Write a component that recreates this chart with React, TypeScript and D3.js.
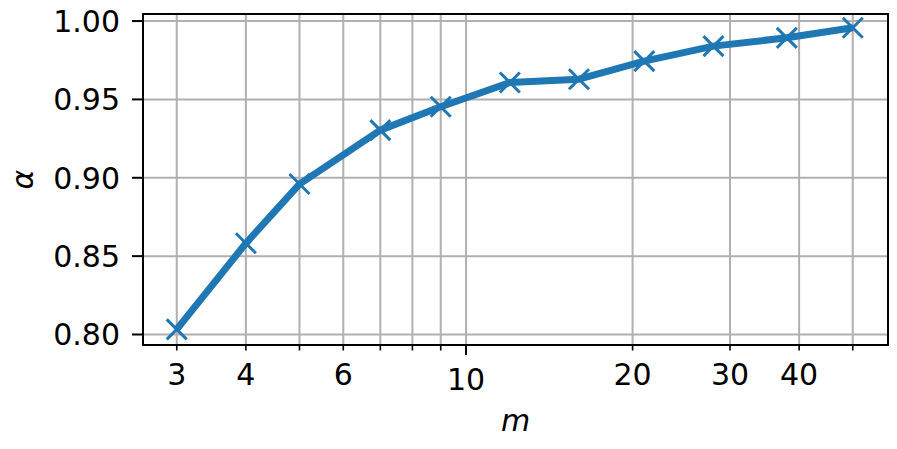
import React from "react";
import * as d3 from "d3";

const mValues = [3, 4, 5, 7, 9, 12, 16, 21, 28, 38, 50];
const alphaValues = [0.8033, 0.8582, 0.896, 0.9304, 0.9453, 0.9608, 0.9629, 0.9744, 0.984, 0.9893, 0.9957];
const yTicks = [0.8, 0.85, 0.9, 0.95, 1.0];
const xGridTicks = [3, 4, 5, 6, 7, 8, 9, 10, 20, 30, 40, 50];
const xMajorTicks = [10];
const xMinorLabels = [3, 4, 6, 20, 30, 40];

const W = 897;
const H = 449;
const left = 143;
const right = 888;
const top = 14;
const bottom = 345;
const FONT = "DejaVu Sans, sans-serif";
const BLUE = "#1f77b4";

export default function App() {
  const x = d3.scaleLog().domain([2.607, 57.9]).range([left, right]);
  const y = d3.scaleLinear().domain([0.7933, 1.0045]).range([bottom, top]);
  const line = d3
    .line<number>()
    .x((_, i) => x(mValues[i]))
    .y((d) => y(d));
  const ms = 10;
  return (
    <svg
      width={W}
      height={H}
      style={{ position: "absolute", left: 0, top: 0, background: "#fff" }}
      fontFamily={FONT}
    >
      <rect x={0} y={0} width={W} height={H} fill="#fff" />
      {/* grid */}
      {xGridTicks.map((t) => (
        <line key={"gx" + t} x1={x(t)} x2={x(t)} y1={top} y2={bottom} stroke="#b0b0b0" strokeWidth={2} />
      ))}
      {yTicks.map((t) => (
        <line key={"gy" + t} x1={left} x2={right} y1={y(t)} y2={y(t)} stroke="#b0b0b0" strokeWidth={2} />
      ))}
      {/* data line */}
      <path d={line(alphaValues) || ""} fill="none" stroke={BLUE} strokeWidth={7} strokeLinejoin="round" strokeLinecap="butt" />
      {alphaValues.map((v, i) => {
        const cx = x(mValues[i]);
        const cy = y(v);
        return (
          <g key={"m" + i} stroke={BLUE} strokeWidth={3}>
            <line x1={cx - ms} y1={cy - ms} x2={cx + ms} y2={cy + ms} />
            <line x1={cx - ms} y1={cy + ms} x2={cx + ms} y2={cy - ms} />
          </g>
        );
      })}
      {/* frame */}
      <rect x={left} y={top} width={right - left} height={bottom - top} fill="none" stroke="#000" strokeWidth={2} />
      {/* y ticks */}
      {yTicks.map((t) => (
        <g key={"yt" + t}>
          <line x1={left - 11} x2={left} y1={y(t)} y2={y(t)} stroke="#000" strokeWidth={2} />
          <text x={120} y={y(t) + 11} textAnchor="end" fontSize={30} fill="#000">
            {t.toFixed(2)}
          </text>
        </g>
      ))}
      {/* x ticks */}
      {xGridTicks.map((t) => {
        const major = xMajorTicks.includes(t);
        return (
          <line key={"xt" + t} x1={x(t)} x2={x(t)} y1={bottom} y2={bottom + (major ? 10 : 5.5)} stroke="#000" strokeWidth={major ? 2 : 1.6} />
        );
      })}
      {xMinorLabels.map((t) => (
        <text key={"xl" + t} x={x(t)} y={385} textAnchor="middle" fontSize={30} fill="#000">
          {t}
        </text>
      ))}
      {xMajorTicks.map((t) => (
        <text key={"xM" + t} x={x(t)} y={390} textAnchor="middle" fontSize={30} fill="#000">
          {t}
        </text>
      ))}
      {/* axis labels */}
      <text x={(left + right) / 2} y={431} textAnchor="middle" fontSize={30} fontStyle="italic" fill="#000">
        m
      </text>
      <text transform={`translate(33,${(top + bottom) / 2}) rotate(-90)`} textAnchor="middle" fontSize={30} fontStyle="italic" fill="#000">
        α
      </text>
    </svg>
  );
}
